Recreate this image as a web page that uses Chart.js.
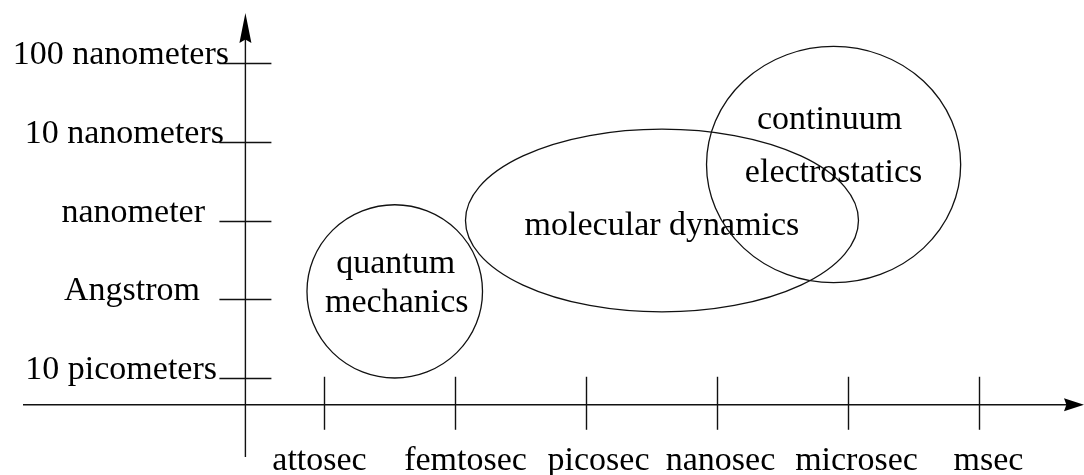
<!DOCTYPE html>
<html>
<head>
<meta charset="utf-8">
<script src="https://cdn.jsdelivr.net/npm/chart.js@4.4.1/dist/chart.umd.min.js"></script>
<style>
html, body { margin: 0; padding: 0; background: #fff; }
#wrap { width: 1084px; height: 475px; position: relative; }
</style>
</head>
<body>
<div id="wrap"><canvas id="myChart"></canvas></div>
<script>
// eje del tiempo: una unidad por marca
const timeTicks = [1, 2, 3, 4, 5, 6];
const timeLabels = ['attosec', 'femtosec', 'picosec', 'nanosec', 'microsec', 'msec'];
// eje de longitud
const lengthTicks = [1, 2, 3, 4, 5];
const lengthLabels = ['10 picometers', 'Angstrom', 'nanometer', '10 nanometers', '100 nanometers'];

// regiones (elipses) en unidades de los ejes
const regionNames = [['quantum', 'mechanics'], ['molecular dynamics'], ['continuum', 'electrostatics']];
const regionTime = [1.54, 3.58, 4.89];
const regionLength = [2.10, 3.00, 3.71];
const regionTimeHalf = [0.67, 1.50, 0.97];
const regionLengthHalf = [1.10, 1.16, 1.50];

// ajustes de dibujo (pixeles)
const FONT = '34px "Liberation Serif", "Times New Roman", serif';
const xLabelShift = [-5, 10, 12, 3, 8, 9];
const yLabelRight = [217, 200, 205, 224, 229];
const regionTextDx = [[1, 2], [0], [-4, 0]];
const regionTextDy = [[-18.5, 20.5], [14.5], [-36, 17]];
const axisTime = 0.4;     // donde cruza el eje vertical
const axisLength = 0.66;  // donde cruza el eje horizontal

function arrowHead(ctx, tx, ty, dx, dy, len, half) {
    const bx = tx - dx * len, by = ty - dy * len;
    const nx = -dy, ny = dx;
    ctx.beginPath();
    ctx.moveTo(tx, ty);
    ctx.lineTo(bx + nx * half, by + ny * half);
    ctx.lineTo(tx - dx * len * 0.88, ty - dy * len * 0.88);
    ctx.lineTo(bx - nx * half, by - ny * half);
    ctx.closePath();
    ctx.fill();
}

const diagramPlugin = {
    id: 'diagram',
    afterDraw(chart) {
        const ctx = chart.ctx;
        const xs = chart.scales.x, ys = chart.scales.y;
        const ax = xs.getPixelForValue(axisTime);
        const ay = ys.getPixelForValue(axisLength);
        ctx.save();
        ctx.strokeStyle = '#111';
        ctx.fillStyle = '#000';
        ctx.lineWidth = 1.4;

        // ejes
        ctx.beginPath();
        ctx.moveTo(ax, 457);
        ctx.lineTo(ax, 20);
        ctx.moveTo(23, ay);
        ctx.lineTo(1078, ay);
        ctx.stroke();
        arrowHead(ctx, ax, 13, 0, -1, 30, 6);
        arrowHead(ctx, 1084, ay, 1, 0, 20, 6.5);

        ctx.font = FONT;
        ctx.textBaseline = 'alphabetic';

        // marcas y etiquetas del tiempo
        timeTicks.forEach((t, i) => {
            const px = Math.round(xs.getPixelForValue(t)) + 0.5;
            ctx.beginPath();
            ctx.moveTo(px, ay - 28);
            ctx.lineTo(px, ay + 25);
            ctx.stroke();
            ctx.textAlign = 'center';
            ctx.fillText(timeLabels[i], px + xLabelShift[i], 470);
        });

        // marcas y etiquetas de longitud
        lengthTicks.forEach((v, i) => {
            const py = Math.round(ys.getPixelForValue(v)) + 0.5;
            ctx.beginPath();
            ctx.moveTo(ax - 26, py);
            ctx.lineTo(ax + 26, py);
            ctx.stroke();
            ctx.textAlign = 'right';
            ctx.fillText(lengthLabels[i], yLabelRight[i], py);
        });

        // regiones
        ctx.lineWidth = 1.3;
        regionNames.forEach((lines, i) => {
            const cx = xs.getPixelForValue(regionTime[i]);
            const cy = ys.getPixelForValue(regionLength[i]);
            const rx = Math.abs(xs.getPixelForValue(regionTime[i] + regionTimeHalf[i]) - cx);
            const ry = Math.abs(ys.getPixelForValue(regionLength[i] + regionLengthHalf[i]) - cy);
            ctx.beginPath();
            ctx.ellipse(cx, cy, rx, ry, 0, 0, Math.PI * 2);
            ctx.stroke();
            ctx.textAlign = 'center';
            lines.forEach((txt, j) => {
                ctx.fillText(txt, cx + regionTextDx[i][j], cy + regionTextDy[i][j]);
            });
        });
        ctx.restore();
    }
};

const ctx = document.getElementById('myChart').getContext('2d');
const myChart = new Chart(ctx, {
    type: 'scatter',
    data: { datasets: [{ data: [], pointRadius: 0 }] },
    options: {
        responsive: true,
        maintainAspectRatio: false,
        animation: false,
        layout: { padding: 0 },
        plugins: { legend: { display: false }, tooltip: { enabled: false } },
        scales: {
            x: { type: 'linear', display: false, min: -1.4733, max: 6.8015 },
            y: { type: 'linear', display: false, min: -0.2317, max: 5.8 }
        }
    },
    plugins: [diagramPlugin]
});
</script>
</body>
</html>
